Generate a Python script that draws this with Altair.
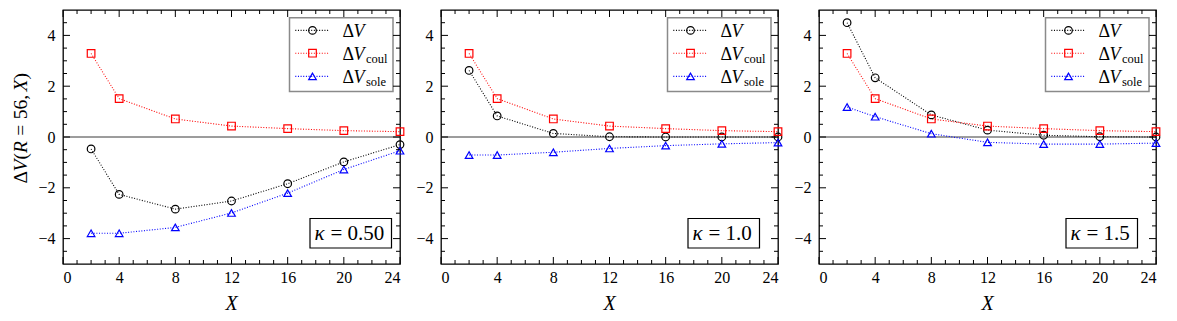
import altair as alt
import pandas as pd

# ---------------- data ----------------
X = [2, 4, 8, 12, 16, 20, 24]
kappa_labels = ["0.50", "1.0", "1.5"]

dV_coul = [3.29, 1.51, 0.71, 0.43, 0.33, 0.25, 0.21]

dV_k050 = [-0.47, -2.26, -2.84, -2.52, -1.84, -0.98, -0.30]
dVsole_k050 = [-3.79, -3.79, -3.56, -2.99, -2.21, -1.28, -0.54]

dV_k10 = [2.62, 0.83, 0.14, 0.01, 0.00, 0.00, 0.00]
dVsole_k10 = [-0.71, -0.71, -0.60, -0.45, -0.34, -0.27, -0.22]

dV_k15 = [4.50, 2.33, 0.87, 0.27, 0.07, 0.01, 0.00]
dVsole_k15 = [1.18, 0.80, 0.13, -0.21, -0.28, -0.28, -0.24]

series = ["dV", "coul", "sole"]
subscripts = ["", "coul", "sole"]
colors = ["#000000", "#ff0000", "#0000ff"]
shapes = ["circle", "square", "triangle-up"]

x_major = [0, 4, 8, 12, 16, 20, 24]
x_minor = [v for v in range(0, 25) if v % 4 != 0]
y_major = [-4, -2, 0, 2, 4]
y_minor = [-4.5, -3.5, -3, -2.5, -1.5, -1, -0.5, 0.5, 1, 1.5, 2.5, 3, 3.5, 4.5]

SERIF = "Liberation Serif"
W, H = 337, 254
MAJ, MIN = 7, 4


def txt(text, x, y, size, style="normal", align="left", baseline="alphabetic", angle=0):
    one = pd.DataFrame({"k": [0]})
    return (alt.Chart(one)
            .mark_text(text=text, font=SERIF, fontSize=size, fontStyle=style, align=align,
                       baseline=baseline, angle=angle, color="black")
            .encode(x=alt.value(x), y=alt.value(y)))


def panel(dv, coul, sole, klabel, kbox_right, ytitle):
    df = pd.DataFrame({
        "X": X * 3,
        "v": dv + coul + sole,
        "s": [series[0]] * len(X) + [series[1]] * len(X) + [series[2]] * len(X),
    })
    xs = alt.Scale(domain=[0, 24], nice=False, zero=False)
    ys = alt.Scale(domain=[-5, 5], nice=False, zero=False)
    xaxis = alt.Axis(values=x_major, format="d", ticks=False, tickSize=0, domain=False,
                     grid=False, labelPadding=5, labelFont=SERIF, labelFontSize=16,
                     labelColor="black", labelBaseline="top", title=None)
    yaxis = alt.Axis(values=y_major, format="d", ticks=False, tickSize=0, domain=False,
                     grid=False, labelPadding=8, labelFont=SERIF, labelFontSize=16,
                     labelColor="black", title=None)
    XE = alt.X("X:Q", scale=xs, axis=xaxis)
    YE = alt.Y("v:Q", scale=ys, axis=yaxis)
    cscale = alt.Scale(domain=series, range=colors)
    sscale = alt.Scale(domain=series, range=shapes)

    one = pd.DataFrame({"k": [0]})
    layers = []

    # zero line
    layers.append(alt.Chart(pd.DataFrame({"v": [0]})).mark_rule(color="#3a3a3a", strokeWidth=1)
                  .encode(y=YE))

    base = alt.Chart(df).encode(x=XE, y=YE,
                                color=alt.Color("s:N", scale=cscale, legend=None))
    layers.append(base.mark_line(strokeDash=[1, 1.65], strokeWidth=1.1))
    layers.append(base.mark_point(filled=False, size=58, strokeWidth=1.2, opacity=1)
                  .encode(shape=alt.Shape("s:N", scale=sscale, legend=None)))

    # legend box
    layers.append(alt.Chart(one).mark_rect(fill="white", stroke="#8a8a8a", strokeWidth=1.5)
                  .encode(x=alt.value(226.5), x2=alt.value(330), y=alt.value(7.7), y2=alt.value(81.4)))
    rows = [20.4, 43.2, 66.4]
    for i in range(3):
        ry = rows[i]
        layers.append(alt.Chart(one).mark_rule(color=colors[i], strokeDash=[1, 1.65], strokeWidth=1.1)
                      .encode(x=alt.value(232.3), x2=alt.value(266.7), y=alt.value(ry)))
        layers.append(alt.Chart(one).mark_point(filled=False, size=58, strokeWidth=1.2, opacity=1,
                                                color=colors[i], shape=shapes[i])
                      .encode(x=alt.value(249.5), y=alt.value(ry)))
        layers.append(txt("Δ", 279.5, ry + 6.5, 18))
        layers.append(txt("V", 290.5, ry + 6.5, 18, "italic"))
        if subscripts[i]:
            layers.append(txt(subscripts[i], 303, ry + 9.5, 12.5))

    # kappa box
    layers.append(alt.Chart(one).mark_rect(fill="white", stroke="black", strokeWidth=1.2)
                  .encode(x=alt.value(247), x2=alt.value(kbox_right), y=alt.value(208.5), y2=alt.value(238)))
    layers.append(txt("κ", 251.5, 230, 21, "italic"))
    layers.append(txt("= " + klabel, 267.5, 230, 21))

    # inward ticks on all four sides
    xmaj = pd.DataFrame({"X": x_major})
    xmin = pd.DataFrame({"X": x_minor})
    ymaj = pd.DataFrame({"v": y_major})
    ymin = pd.DataFrame({"v": y_minor})
    for d, L in ((xmaj, MAJ), (xmin, MIN)):
        layers.append(alt.Chart(d).mark_rule(color="black", strokeWidth=1)
                      .encode(x=XE, y=alt.value(H), y2=alt.value(H - L)))
        layers.append(alt.Chart(d).mark_rule(color="black", strokeWidth=1)
                      .encode(x=XE, y=alt.value(0), y2=alt.value(L)))
    for d, L in ((ymaj, MAJ), (ymin, MIN)):
        layers.append(alt.Chart(d).mark_rule(color="black", strokeWidth=1)
                      .encode(y=YE, x=alt.value(0), x2=alt.value(L)))
        layers.append(alt.Chart(d).mark_rule(color="black", strokeWidth=1)
                      .encode(y=YE, x=alt.value(W), x2=alt.value(W - L)))

    # x title
    layers.append(txt("X", W / 2, H + 46, 20, "italic", align="center"))

    # y title (mixed upright / italic pieces), rotated, laid out bottom-to-top
    if ytitle:
        fs = 19.5
        # (text, style, space before [em], advance [em])
        pieces = [("Δ", "normal", 0.0, 0.612), ("V", "italic", 0.0, 0.611),
                  ("(", "normal", 0.0, 0.333), ("R", "italic", 0.0, 0.611),
                  ("=", "normal", 0.28, 0.564), ("56,", "normal", 0.28, 1.25),
                  ("X", "italic", 0.17, 0.611), (")", "normal", 0.0, 0.333)]
        pos = 173.4
        for t, style, pre, em in pieces:
            pos -= pre * fs
            layers.append(txt(t, -42, pos, fs, style, align="left", baseline="middle", angle=270))
            pos -= em * fs

    return alt.layer(*layers).properties(width=W, height=H)


p1 = panel(dV_k050, dV_coul, dVsole_k050, kappa_labels[0], 328.5, True)
p2 = panel(dV_k10, dV_coul, dVsole_k10, kappa_labels[1], 318.5, False)
p3 = panel(dV_k15, dV_coul, dVsole_k15, kappa_labels[2], 318.5, False)

chart = (
    alt.HConcatChart(hconcat=[p1, p2, p3], spacing=41, bounds="flush")
    .properties(padding={"left": 2, "top": 0, "right": 2, "bottom": 0}, background="white")
    .configure(font=SERIF)
    .configure_view(stroke="black", strokeWidth=1.3)
    .configure_axis(labelFont=SERIF)
    .configure_text(font=SERIF)
)

chart.save("out.html", embed_options={"renderer": "svg", "actions": False})
